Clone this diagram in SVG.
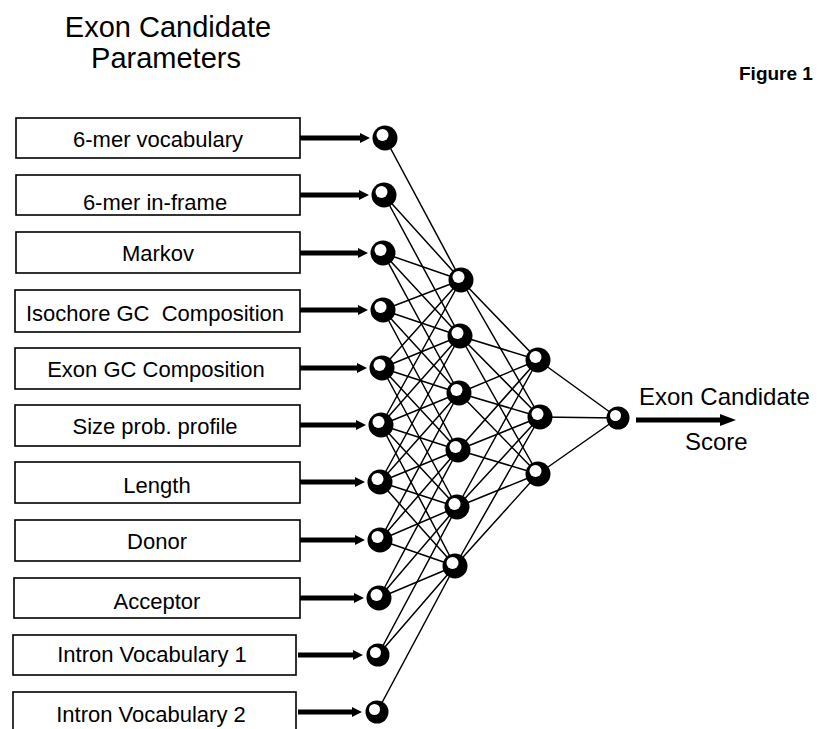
<svg xmlns="http://www.w3.org/2000/svg" width="819" height="729" viewBox="0 0 819 729">
<style>
text{font-family:"Liberation Sans",Arial,sans-serif;fill:#000}
.title{font-size:29px;text-anchor:middle}
.lbl{font-size:22px;text-anchor:middle;white-space:pre}
.out{font-size:24px}
.fig{font-size:19px;font-weight:bold}
.box{fill:#fff;stroke:#000;stroke-width:1.6}
.edge{fill:none;stroke:#000;stroke-width:1.5}
.arrow{stroke:#000;stroke-width:5;fill:none}
</style>
<defs>
<marker id="ah" markerUnits="userSpaceOnUse" markerWidth="12" markerHeight="12" refX="2" refY="6" orient="auto"><path d="M0,1 L10,6 L0,11 Z" fill="#000"/></marker>
<marker id="ah2" markerUnits="userSpaceOnUse" markerWidth="20" markerHeight="14" refX="2" refY="7" orient="auto"><path d="M0,1 L16,7 L0,13 Z" fill="#000"/></marker>
<g id="ball"><circle r="12.5" fill="#000"/><circle cx="-2.5" cy="-3" r="6" fill="#fff"/></g>
<g id="ballS"><circle r="11.5" fill="#000"/><circle cx="-2.5" cy="-2.5" r="5.5" fill="#fff"/></g>
</defs>
<rect width="819" height="729" fill="#fff"/>

<text class="title" x="168" y="37">Exon Candidate</text>
<text class="title" x="166" y="68">Parameters</text>
<text class="fig" x="739" y="80">Figure 1</text>

<g id="connectors">
<path class="edge" d="M385 138L461 280"/>
<path class="edge" d="M384 195L461 280M384 195L460 336"/>
<path class="edge" d="M383 253L461 280M383 253L460 336M383 253L459 393"/>
<path class="edge" d="M383 310L461 280M383 310L460 336M383 310L459 393M383 310L458 450"/>
<path class="edge" d="M382 368L461 280M382 368L460 336M382 368L459 393M382 368L458 450M382 368L457 507"/>
<path class="edge" d="M381 425L461 280M381 425L460 336M381 425L459 393M381 425L458 450M381 425L457 507M381 425L455 566"/>
<path class="edge" d="M380 482L460 336M380 482L459 393M380 482L458 450M380 482L457 507M380 482L455 566"/>
<path class="edge" d="M380 540L459 393M380 540L458 450M380 540L457 507M380 540L455 566"/>
<path class="edge" d="M379 598L458 450M379 598L457 507M379 598L455 566"/>
<path class="edge" d="M378 655L457 507M378 655L455 566"/>
<path class="edge" d="M377 712L455 566"/>
<path class="edge" d="M538 360L461 280M538 360L460 336M538 360L459 393M538 360L458 450M538 360L457 507"/>
<path class="edge" d="M540 417L461 280M540 417L460 336M540 417L459 393M540 417L458 450M540 417L457 507M540 417L455 566"/>
<path class="edge" d="M538 474L460 336M538 474L459 393M538 474L458 450M538 474L457 507M538 474L455 566"/>
<path class="edge" d="M618 418L538 360M618 418L540 417M618 418L538 474"/>
<line class="arrow" x1="300" y1="138" x2="362" y2="138" marker-end="url(#ah)"/>
<line class="arrow" x1="300" y1="195" x2="361" y2="195" marker-end="url(#ah)"/>
<line class="arrow" x1="300" y1="253" x2="360" y2="253" marker-end="url(#ah)"/>
<line class="arrow" x1="300" y1="310" x2="360" y2="310" marker-end="url(#ah)"/>
<line class="arrow" x1="300" y1="368" x2="359" y2="368" marker-end="url(#ah)"/>
<line class="arrow" x1="300" y1="425" x2="358" y2="425" marker-end="url(#ah)"/>
<line class="arrow" x1="300" y1="482" x2="357" y2="482" marker-end="url(#ah)"/>
<line class="arrow" x1="300" y1="540" x2="357" y2="540" marker-end="url(#ah)"/>
<line class="arrow" x1="300" y1="598" x2="356" y2="598" marker-end="url(#ah)"/>
<line class="arrow" x1="298" y1="655" x2="355" y2="655" marker-end="url(#ah)"/>
<line class="arrow" x1="298" y1="712" x2="354" y2="712" marker-end="url(#ah)"/>
<line class="arrow" x1="636" y1="420" x2="722" y2="420" marker-end="url(#ah2)"/>
</g>

<g id="in0"><rect class="box" x="16" y="118" width="284" height="40"/><text class="lbl" x="158" y="147">6-mer vocabulary</text><use href="#ball" x="385" y="138"/></g>
<g id="in1"><rect class="box" x="16" y="175" width="284" height="40"/><text class="lbl" x="155" y="210">6-mer in-frame</text><use href="#ball" x="384" y="195"/></g>
<g id="in2"><rect class="box" x="16" y="232" width="284" height="41"/><text class="lbl" x="158" y="261">Markov</text><use href="#ball" x="383" y="253"/></g>
<g id="in3"><rect class="box" x="15" y="290" width="285" height="42"/><text class="lbl" x="155" y="321">Isochore GC  Composition</text><use href="#ball" x="383" y="310"/></g>
<g id="in4"><rect class="box" x="15" y="348" width="285" height="41"/><text class="lbl" x="156" y="377">Exon GC Composition</text><use href="#ball" x="382" y="368"/></g>
<g id="in5"><rect class="box" x="15" y="405" width="285" height="41"/><text class="lbl" x="155" y="434">Size prob. profile</text><use href="#ball" x="381" y="425"/></g>
<g id="in6"><rect class="box" x="15" y="462" width="285" height="41"/><text class="lbl" x="157" y="493">Length</text><use href="#ball" x="380" y="482"/></g>
<g id="in7"><rect class="box" x="15" y="520" width="285" height="41"/><text class="lbl" x="157" y="549">Donor</text><use href="#ball" x="380" y="540"/></g>
<g id="in8"><rect class="box" x="14" y="578" width="286" height="40"/><text class="lbl" x="157" y="609">Acceptor</text><use href="#ball" x="379" y="598"/></g>
<g id="in9"><rect class="box" x="13" y="635" width="283" height="40"/><text class="lbl" x="152" y="662">Intron Vocabulary 1</text><use href="#ballS" x="378" y="655"/></g>
<g id="in10"><rect class="box" x="13" y="692" width="283" height="42"/><text class="lbl" x="151" y="722">Intron Vocabulary 2</text><use href="#ballS" x="377" y="712"/></g>

<g id="h0"><use href="#ball" x="461" y="280"/></g>
<g id="h1"><use href="#ball" x="460" y="336"/></g>
<g id="h2"><use href="#ball" x="459" y="393"/></g>
<g id="h3"><use href="#ball" x="458" y="450"/></g>
<g id="h4"><use href="#ball" x="457" y="507"/></g>
<g id="h5"><use href="#ball" x="455" y="566"/></g>
<g id="g0"><use href="#ball" x="538" y="360"/></g>
<g id="g1"><use href="#ball" x="540" y="417"/></g>
<g id="g2"><use href="#ball" x="538" y="474"/></g>
<g id="out"><use href="#ballS" x="618" y="418"/><text class="out" x="639" y="405">Exon Candidate</text><text class="out" x="685" y="450">Score</text></g>
</svg>
